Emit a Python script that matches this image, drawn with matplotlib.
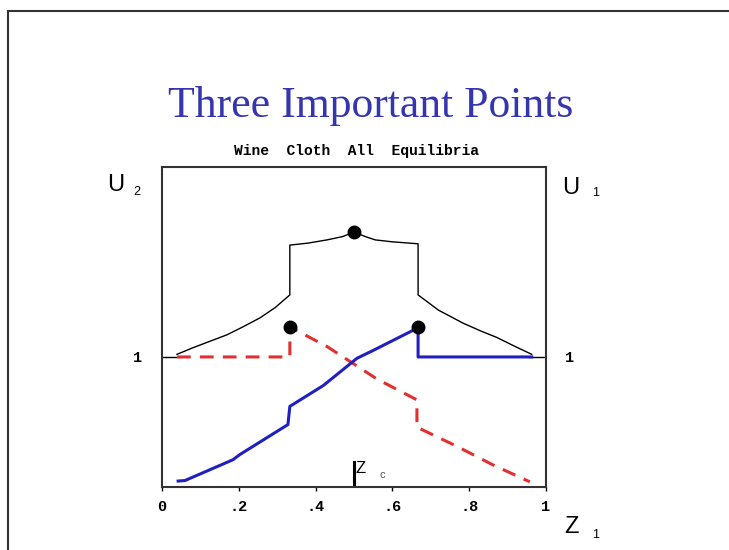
import matplotlib
matplotlib.use("Agg")
import matplotlib.pyplot as plt
from matplotlib.lines import Line2D

# black envelope curve
black_z = [0.039, 0.08, 0.12, 0.169, 0.21, 0.255, 0.295, 0.333, 0.333, 0.38, 0.43, 0.47, 0.5,
           0.53, 0.555, 0.60, 0.667, 0.667, 0.72, 0.784, 0.83, 0.872, 0.92, 0.963]
black_u = [1.02, 1.07, 1.115, 1.17, 1.23, 1.30, 1.38, 1.477, 1.86, 1.875, 1.90, 1.925, 1.96,
           1.925, 1.90, 1.885, 1.87, 1.477, 1.36, 1.26, 1.20, 1.15, 1.08, 1.02]

# red dashed (U2 for cloth)
red_z = [0.039, 0.333, 0.333, 0.43, 0.56, 0.664, 0.664, 0.77, 0.862, 0.958]
red_u = [1.0, 1.0, 1.23, 1.08, 0.83, 0.67, 0.46, 0.31, 0.17, 0.04]

# blue solid (U1 for wine)
blue_z = [0.042, 0.06, 0.185, 0.203, 0.328, 0.333, 0.42, 0.508, 0.55, 0.664, 0.667, 0.667, 0.963]
blue_u = [0.046, 0.05, 0.21, 0.25, 0.48, 0.62, 0.78, 0.99, 1.05, 1.22, 1.22, 1.0, 1.0]

# the three important points
pts_z = [0.333, 0.5, 0.667]
pts_u = [1.23, 1.96, 1.23]

xticks = [0, 0.2, 0.4, 0.6, 0.8, 1]
xlabels = ["0", ".2", ".4", ".6", ".8", "1"]

fig = plt.figure(figsize=(7.29, 5.5), dpi=100)
ax = fig.add_axes([0.2222, 0.1145, 0.5267, 0.5818])

ax.plot(black_z, black_u, color="black", lw=1.0)
ax.plot(red_z, red_u, color="#e03030", lw=2.2, ls=(0, (4.5, 3)))
ax.plot(blue_z, blue_u, color="#2020c0", lw=2.2)
ax.plot(pts_z, pts_u, "o", color="black", ms=9)

# Zc marker
ax.plot([0.5, 0.5], [0, 0.19], color="black", lw=2.2)
ax.text(0.503, 0.20, "Z", fontsize=12, va="top", ha="left", family="Liberation Sans")
ax.text(0.575, 0.09, "c", fontsize=8, va="center", ha="center", family="Liberation Sans",
        color="#555555")

ax.set_xlim(0, 1)
ax.set_ylim(0, 2.46)
ax.set_xticks(xticks)
ax.set_xticklabels(xlabels, family="Liberation Mono", fontweight="bold", fontsize=11)
ax.tick_params(axis="x", length=3, width=1, pad=6)
ax.set_yticks([1])
ax.set_yticklabels(["1"])
ax.tick_params(axis="y", direction="in", length=13, width=1,
               left=True, right=True, labelleft=True, labelright=True, labelsize=11)
for t in ax.yaxis.get_major_ticks():
    for lab in (t.label1, t.label2):
        lab.set_fontweight("bold")
        lab.set_family("Liberation Mono")
    t.set_pad(14)
for s in ax.spines.values():
    s.set_linewidth(1.5)
    s.set_color("#333333")

# axis labels
fig.text(107 / 729, 1 - 185 / 550, "U", fontsize=17, family="Liberation Sans", va="center")
fig.text(133 / 729, 1 - 192 / 550, "2", fontsize=9, family="Liberation Sans", va="center")
fig.text(562 / 729, 1 - 188 / 550, "U", fontsize=17, family="Liberation Sans", va="center")
fig.text(592 / 729, 1 - 193 / 550, "1", fontsize=9, family="Liberation Sans", va="center")
fig.text(564 / 729, 1 - 527 / 550, "Z", fontsize=17, family="Liberation Sans", va="center")
fig.text(592 / 729, 1 - 535 / 550, "1", fontsize=9, family="Liberation Sans", va="center")

fig.text(371 / 729, 1 - 106 / 550, "Three Important Points", fontsize=31.5,
         family="Liberation Serif", color="#3535b0", ha="center", va="center")
fig.text(357 / 729, 1 - 151 / 550, "Wine  Cloth  All  Equilibria", fontsize=10.5,
         family="Liberation Mono", fontweight="bold", ha="center", va="center")

# outer slide frame
fig.add_artist(Line2D([8 / 729, 8 / 729], [0, 1 - 11 / 550], transform=fig.transFigure,
                      color="#333333", lw=1.5))
fig.add_artist(Line2D([8 / 729, 1], [1 - 11 / 550, 1 - 11 / 550], transform=fig.transFigure,
                      color="#333333", lw=1.5))

fig.savefig("out.png", dpi=100)
